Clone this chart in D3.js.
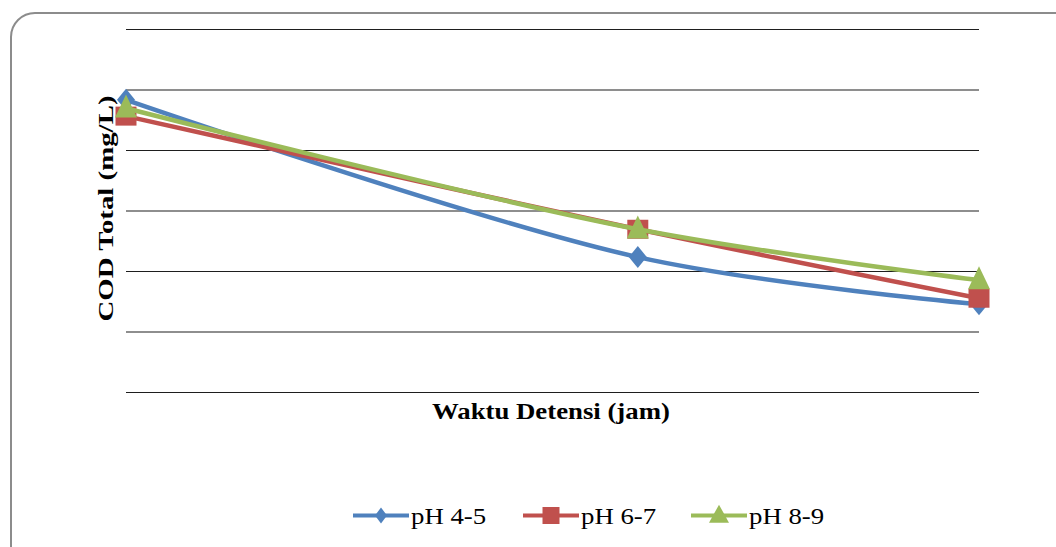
<html>
  <head>
    <meta charset="utf-8" />
    <script src="https://d3js.org/d3.v7.min.js"></script>
    <style>
      body { margin: 0; background: #fff; }
      text { font-family: "Liberation Serif", "Times New Roman", serif; fill: #000; }
      .gridlines line { stroke: #1e1e1e; stroke-width: 1.2px; }
      .gridlines path { display: none; }
    </style>
  </head>
  <body>
    <svg id="chart" width="1056" height="547"></svg>
    <script>
      // values (the original shows no tick labels)
      const hours = [0, 3, 5];
      const seriesNames = ["pH 4-5", "pH 6-7", "pH 8-9"];
      const ph45 = [4.83, 2.23, 1.45];
      const ph67 = [4.56, 2.69, 1.55];
      const ph89 = [4.69, 2.69, 1.85];
      const yTicks = [0, 1, 2, 3, 4, 5, 6];
      const colors = ["#4F81BD", "#C0504D", "#9BBB59"];

      const svg = d3.select("svg#chart");
      const margin = { top: 29, left: 126, right: 77 };
      const width = +svg.attr("width");
      const stretch = 1.19; // the original text is a bit wide

      // marker shapes given as width x height in px
      const diamond = (w, h) => `M0,${-h / 2}L${w / 2},0L0,${h / 2}L${-w / 2},0Z`;
      const square = (w, h) =>
        `M${-w / 2},${-h / 2}H${w / 2}V${h / 2}H${-w / 2}Z`;
      const triangle = (w, h) =>
        `M0,${-h * 0.6}L${w / 2},${h * 0.4}H${-w / 2}Z`;
      const shapes = [diamond, square, triangle];
      const plotSizes = [[18, 22], [21, 19], [22, 23]];
      const legendSizes = [[12, 16], [17, 17], [20, 18]];

      // outer rounded frame
      svg
        .append("rect")
        .attr("x", 11)
        .attr("y", 13)
        .attr("width", 1070)
        .attr("height", 560)
        .attr("rx", 24)
        .attr("fill", "none")
        .attr("stroke", "#8c8c8c")
        .attr("stroke-width", 2);

      const x = d3
        .scaleLinear()
        .domain([0, 5])
        .range([margin.left, width - margin.right]);
      const y = d3.scaleLinear().domain([0, 6]).range([392, margin.top]);

      svg
        .append("g")
        .attr("class", "gridlines")
        .attr("transform", `translate(${margin.left},0)`)
        .call(
          d3
            .axisLeft(y)
            .tickValues(yTicks)
            .tickSize(-(x(5) - x(0)))
            .tickFormat("")
        );

      const series = [ph45, ph67, ph89].map((vals, i) => ({
        name: seriesNames[i],
        color: colors[i],
        values: vals.map((v, j) => [hours[j], v]),
      }));

      const line = d3
        .line()
        .x((d) => x(d[0]))
        .y((d) => y(d[1]))
        .curve(d3.curveCatmullRom.alpha(0.5));

      series.forEach((s, i) => {
        const g = svg.append("g");
        g.append("path")
          .attr("d", line(s.values))
          .attr("fill", "none")
          .attr("stroke", s.color)
          .attr("stroke-width", 4.5)
          .attr("stroke-linejoin", "round");
        g.selectAll("path.marker")
          .data(s.values)
          .join("path")
          .attr("class", "marker")
          .attr("d", shapes[i](...plotSizes[i]))
          .attr("fill", s.color)
          .attr("transform", (d) => `translate(${x(d[0])},${y(d[1])})`);
      });

      // axis titles
      svg
        .append("text")
        .attr("transform", `translate(113,${(y(0) + y(6)) / 2 - 2}) rotate(-90)`)
        .attr("text-anchor", "middle")
        .attr("font-size", "22px")
        .attr("font-weight", "bold")
        .attr("textLength", 226)
        .attr("lengthAdjust", "spacingAndGlyphs")
        .text("COD Total (mg/L)");

      svg
        .append("text")
        .attr("transform", `translate(432,419) scale(${stretch},1)`)
        .attr("font-size", "22.5px")
        .attr("font-weight", "bold")
        .text("Waktu Detensi (jam)");

      // legend
      const legendX = [353, 523, 691];
      series.forEach((s, i) => {
        const lg = svg
          .append("g")
          .attr("transform", `translate(${legendX[i]},515.5)`);
        lg.append("line")
          .attr("x1", 0)
          .attr("x2", 56)
          .attr("stroke", s.color)
          .attr("stroke-width", 4);
        lg.append("path")
          .attr("d", shapes[i](...legendSizes[i]))
          .attr("fill", s.color)
          .attr("transform", "translate(28,0)");
        lg.append("text")
          .attr("transform", `translate(58,8.5) scale(${stretch},1)`)
          .attr("font-size", "22.5px")
          .text(s.name);
      });
    </script>
  </body>
</html>
